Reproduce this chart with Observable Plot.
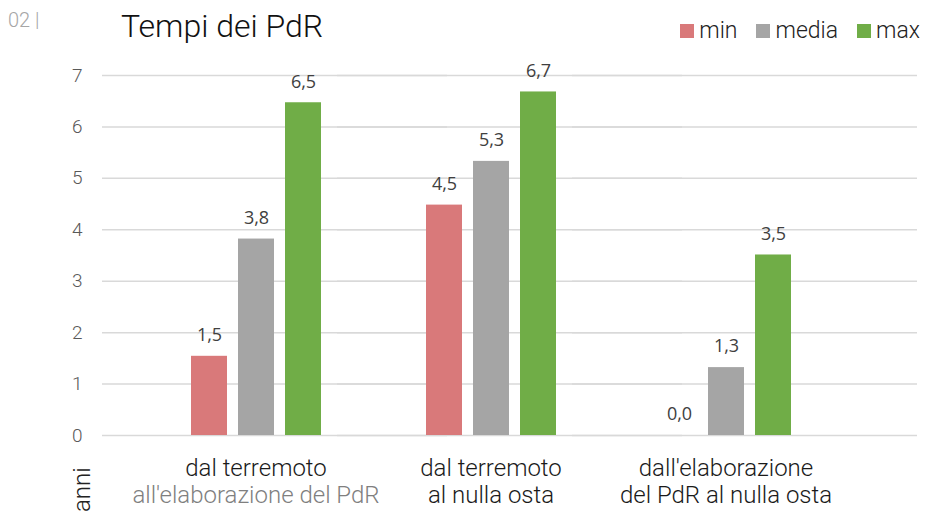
<!DOCTYPE html>
<html>
<head>
<meta charset="utf-8">
<script src="https://cdn.jsdelivr.net/npm/d3@7"></script>
<script src="https://cdn.jsdelivr.net/npm/@observablehq/plot@0.6"></script>
<style>
  html, body { margin: 0; padding: 0; background: #fff; }
  #wrap { position: relative; width: 930px; height: 512px; overflow: hidden; font-family: Roboto, "Liberation Sans", sans-serif; }
  #num { position: absolute; left: 8px; top: 10px; font-size: 20px; line-height: 1; font-weight: 300; color: #a6a6a6; white-space: nowrap; }
  #title { position: absolute; left: 121px; top: 10px; font-size: 32px; line-height: 1; font-weight: 300; color: #111; white-space: nowrap; }
  #legend { position: absolute; right: 10px; top: 19px; display: flex; align-items: center; font-size: 23px; line-height: 1; font-weight: 300; color: #222; }
  #legend .item { display: flex; align-items: center; margin-left: 19px; }
  #legend .sw { width: 14px; height: 14px; margin-right: 5px; }
  #anni { position: absolute; left: 70px; top: 512px; transform-origin: 0 0; transform: rotate(-90deg); font-size: 24px; line-height: 1; font-weight: 300; color: #222; white-space: nowrap; }
  #chart { position: absolute; left: 0; top: 45px; }
</style>
</head>
<body>
<div id="wrap">
  <div id="chart"></div>
  <div id="num">02 |</div>
  <div id="title">Tempi dei PdR</div>
  <div id="legend"></div>
  <div id="anni">anni</div>
</div>
<script>
const categories = [
  "dal terremoto all'elaborazione del PdR",
  "dal terremoto al nulla osta",
  "dall'elaborazione del PdR al nulla osta"
];
const catLine1 = ["dal terremoto", "dal terremoto", "dall'elaborazione"];
const catLine2 = ["all'elaborazione del PdR", "al nulla osta", "del PdR al nulla osta"];
const series = ["min", "media", "max"];
const minValues = [1.54, 4.48, 0.0];
const mediaValues = [3.82, 5.33, 1.32];
const maxValues = [6.47, 6.68, 3.51];
const seriesColors = ["#d9797a", "#a5a5a5", "#70ad47"];
const yTicks = [0, 1, 2, 3, 4, 5, 6, 7];

const valuesBySeries = [minValues, mediaValues, maxValues];
const rows = categories.flatMap((c, i) => series.map((s, j) => ({
  cat: c, idx: i, line1: catLine1[i], line2: catLine2[i], series: s, value: valuesBySeries[j][i]
})));

const fmt = v => d3.format(".1f")(v).replace(".", ",");
const font = "Roboto, 'Liberation Sans', sans-serif";

// legend
const legend = document.getElementById("legend");
series.forEach((s, j) => {
  const it = document.createElement("div");
  it.className = "item";
  const sw = document.createElement("div");
  sw.className = "sw";
  sw.style.background = seriesColors[j];
  const tx = document.createElement("span");
  tx.textContent = s;
  it.appendChild(sw); it.appendChild(tx);
  legend.appendChild(it);
});

const chart = Plot.plot({
  width: 930,
  height: 467,
  marginTop: 30,
  marginBottom: 77,
  marginLeft: 137,
  marginRight: 86,
  style: { fontFamily: font, background: "transparent", overflow: "visible" },
  facet: { data: rows, x: "cat" },
  fx: { domain: categories, padding: 0, axis: null, label: null },
  x: { domain: series, paddingInner: 0.24, paddingOuter: 1.07, axis: null },
  y: { domain: [0, 7], ticks: 7, tickSize: 0, tickPadding: 56, label: null, tickFormat: d3.format("d") },
  color: { domain: series, range: seriesColors },
  marks: [
    Plot.ruleY(yTicks, { stroke: "#d9d9d9", strokeWidth: 1.5, insetLeft: -36, insetRight: -74 }),
    Plot.barY(rows, { x: "series", y: "value", fill: "series" }),
    Plot.text(rows, { x: "series", y: "value", text: d => fmt(d.value), dy: -21, lineAnchor: "middle",
      fill: "#404040", fontSize: 18, fontFamily: "'Open Sans', sans-serif" }),
    Plot.text(rows, { filter: d => d.series === "media", text: "line1", frameAnchor: "bottom", dy: 33,
      lineAnchor: "middle", fontSize: 24, fontWeight: 300, fill: "#1a1a1a" }),
    Plot.text(rows, { filter: d => d.series === "media", text: "line2", frameAnchor: "bottom", dy: 60,
      lineAnchor: "middle", fontSize: 24, fontWeight: 300, fill: d => d.idx === 0 ? "#7f7f7f" : "#1a1a1a" })
  ]
});
const yAxis = chart.querySelector("g[aria-label='y-axis']") || chart.querySelector("g[aria-label='y-axis tick label']");
if (yAxis) {
  yAxis.setAttribute("font-size", "19"); yAxis.setAttribute("font-weight", "300"); yAxis.setAttribute("fill", "#595959");
  yAxis.querySelectorAll("text").forEach(t => t.setAttribute("fill", "#595959"));
}
document.getElementById("chart").appendChild(chart);
</script>
</body>
</html>
